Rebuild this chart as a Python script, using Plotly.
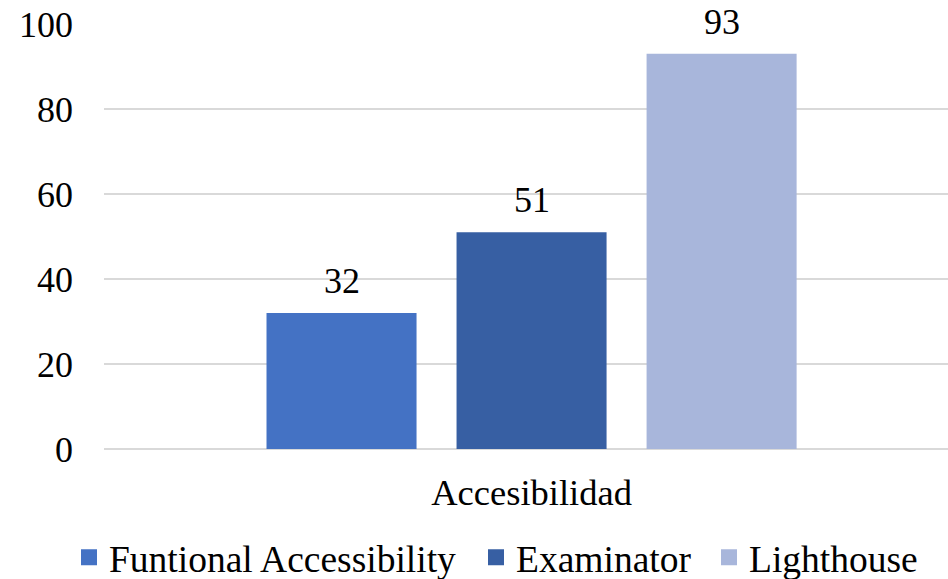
import plotly.graph_objects as go

categories = ["Accesibilidad"]
series_names = ["Funtional Accessibility", "Examinator", "Lighthouse"]
series_values = [[32], [51], [93]]
colors = ["#4472C4", "#375FA3", "#A8B6DB"]
y_ticks = [0, 20, 40, 60, 80, 100]

FONT = "Times New Roman, Liberation Serif, DejaVu Serif, serif"
BLACK = "#000000"

PLOT_L, PLOT_W = 104, 844
legend_text_px = [110, 517, 750]  # where each legend entry's text starts
slot_px = 190  # bar slot width in px (bar + group gap)

fig = go.Figure()
for i, (name, vals, col) in enumerate(zip(series_names, series_values, colors)):
    fig.add_trace(go.Bar(
        x=categories, y=vals, name=name,
        marker=dict(color=col, line=dict(width=0)),
        showlegend=False, cliponaxis=False,
    ))
    # legend proxy with bigger square symbol
    lg = "legend" if i == 0 else f"legend{i+1}"
    fig.add_trace(go.Scatter(
        x=[None], y=[None], mode="markers", name=name,
        marker=dict(symbol="square", size=19, color=col),
        showlegend=True, legend=lg,
    ))
    for c, v in zip(categories, vals):
        fig.add_annotation(
            x=c, y=v, text=str(v), showarrow=False,
            xshift=(i - 1) * slot_px, yanchor="bottom", yshift=10,
            font=dict(family=FONT, size=36, color=BLACK),
        )

legend_common = dict(orientation="h", xanchor="left", y=-0.255, yanchor="middle",
                     font=dict(family=FONT, size=37.5, color=BLACK),
                     bgcolor="rgba(0,0,0,0)", itemsizing="trace")
legends = {}
for i, tx in enumerate(legend_text_px):
    key = "legend" if i == 0 else f"legend{i+1}"
    legends[key] = dict(legend_common, x=(tx - 41 - PLOT_L) / PLOT_W)

fig.update_layout(
    width=948, height=579,
    margin=dict(l=104, r=0, t=24, b=130, autoexpand=False),
    paper_bgcolor="white", plot_bgcolor="white",
    font=dict(family=FONT, size=36, color=BLACK),
    barmode="group", bargap=0.3333, bargroupgap=0.2105,
    showlegend=True,
    **legends,
)
fig.update_xaxes(type="category", range=[-0.5, 0.487], showgrid=False, showline=False,
                 zeroline=False, ticks="", ticklabelstandoff=18, automargin=False,
                 tickfont=dict(family=FONT, size=36.5, color=BLACK))
fig.update_yaxes(range=[0, 100], tickvals=y_ticks, ticktext=[str(t) for t in y_ticks],
                 showgrid=True, gridcolor="#D9D9D9", gridwidth=1.5,
                 zeroline=True, zerolinecolor="#D9D9D9", zerolinewidth=1.5,
                 showline=False, ticks="", ticklabelstandoff=30, automargin=False,
                 tickfont=dict(family=FONT, size=36, color=BLACK))

fig.write_html("out.html")
